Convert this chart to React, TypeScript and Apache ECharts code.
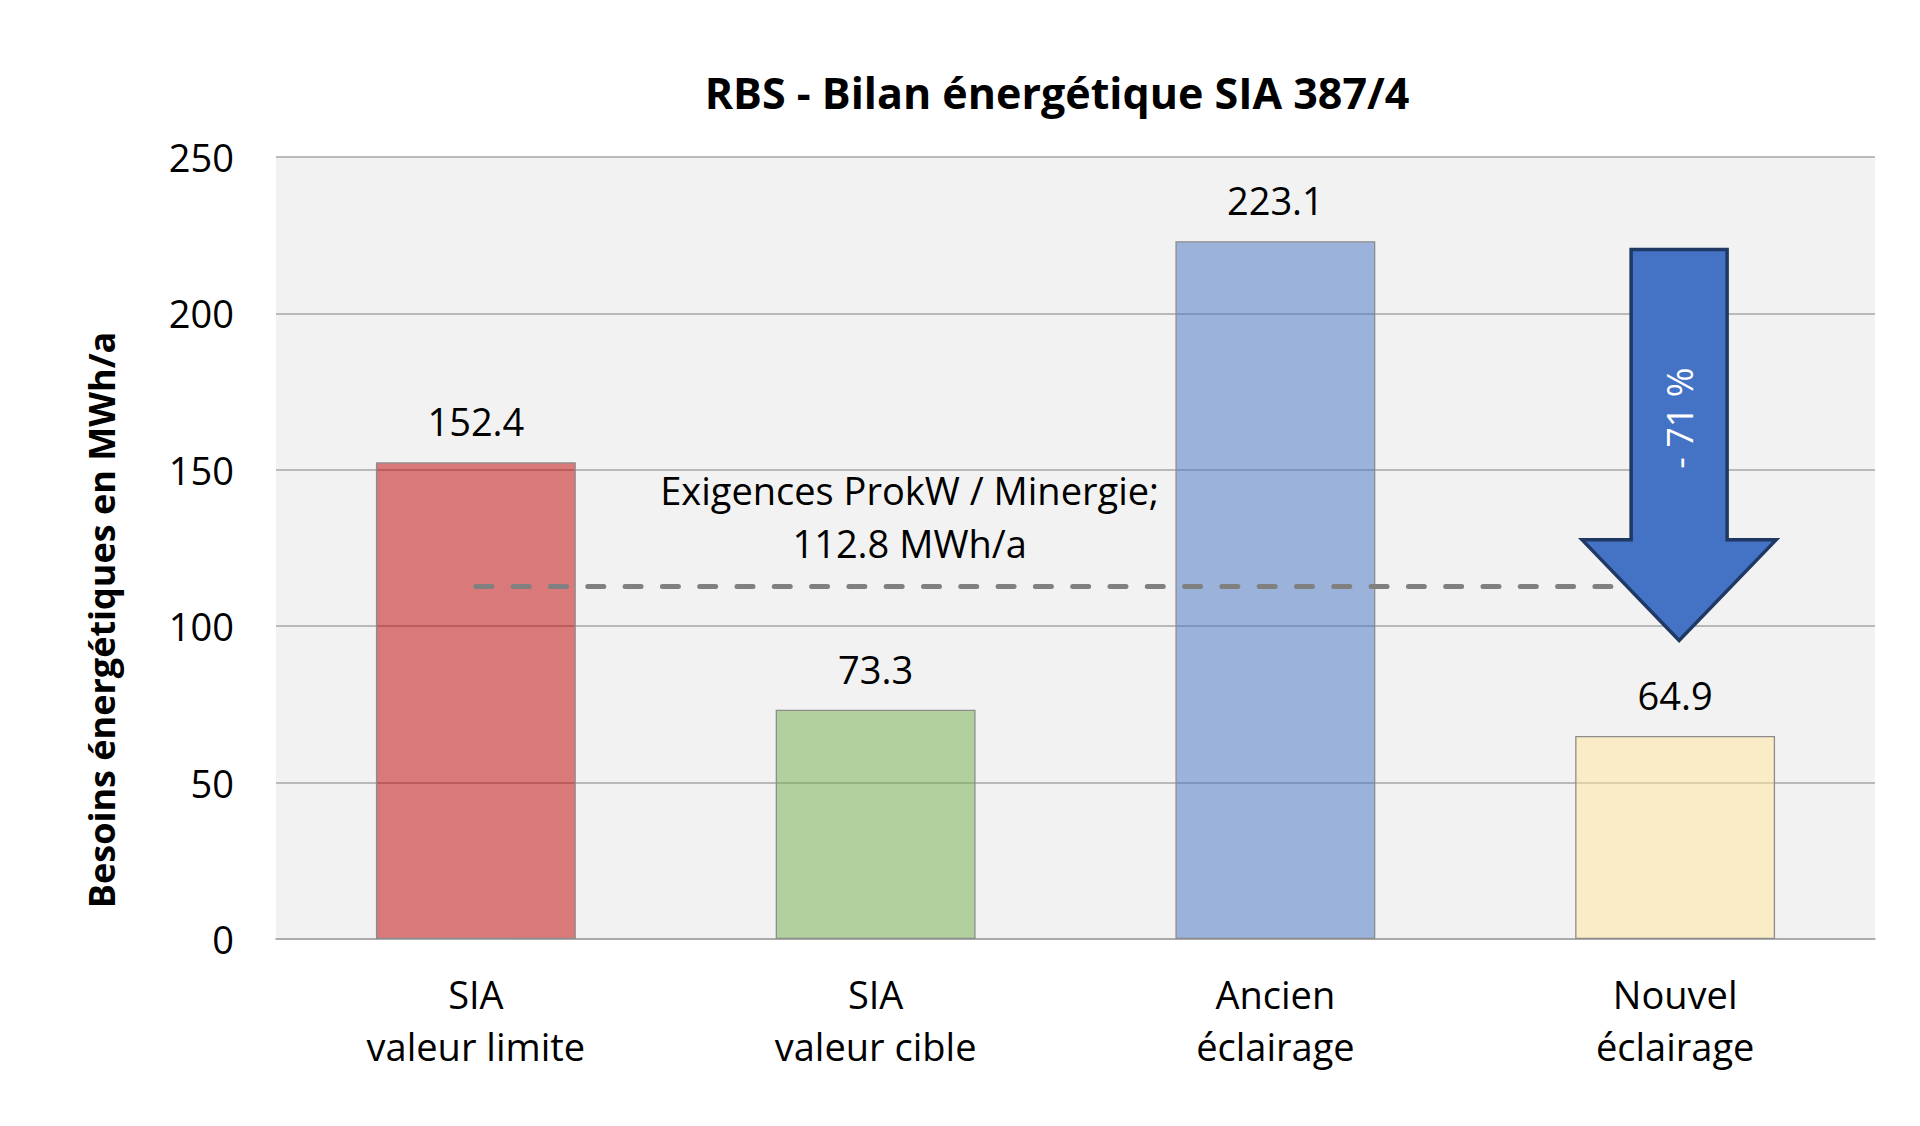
import React, { useEffect, useRef } from "react";
import * as echarts from "echarts";

const categories = ["SIA\nvaleur limite", "SIA\nvaleur cible", "Ancien\néclairage", "Nouvel\néclairage"];
const values = [152.4, 73.3, 223.1, 64.9];
const barColors = ["rgba(192,0,0,0.5)", "rgba(112,173,71,0.5)", "rgba(68,114,196,0.5)", "rgba(255,230,153,0.5)"];
const yTickMin = 0;
const yTickMax = 250;
const yTickStep = 50;
const requirementValue = 112.8;
const requirementText = ["Exigences ProkW / Minergie;", "112.8 MWh/a"];
// arrow annotation in axis values: top of shaft, start of head, tip
const arrowLevels = [220.4, 127.6, 95.4];
const reductionText = "- 71 %";
const reductionLevel = 166.5;
const noteLevel = 135;
const yAxisTitle = "Besoins énergétiques en MWh/a";
const yAxisTitleLevel = 102;

const FONT = "Open Sans";

export default function App() {
  const ref = useRef<HTMLDivElement>(null);
  useEffect(() => {
    document.body.style.margin = "0";
    const chart = echarts.init(ref.current!, undefined, { renderer: "svg" });
    chart.setOption({
      animation: false,
      backgroundColor: "#ffffff",
      textStyle: { fontFamily: FONT },
      title: {
        text: "RBS - Bilan énergétique SIA 387/4",
        left: 1052,
        textAlign: "center",
        top: 66,
        textStyle: { fontFamily: FONT, fontWeight: "bold", fontSize: 43, color: "#000" },
      },
      grid: {
        left: 276,
        right: 45,
        top: 157,
        bottom: 187,
        show: true,
        backgroundColor: "#F2F2F2",
        borderWidth: 0,
        containLabel: false,
      },
      xAxis: {
        type: "category",
        data: categories,
        axisTick: { show: false },
        axisLine: { lineStyle: { color: "#A6A6A6", width: 1.5 } },
        axisLabel: {
          fontFamily: FONT,
          fontSize: 38,
          lineHeight: 52,
          color: "#000",
          margin: 29,
          interval: 0,
        },
      },
      yAxis: {
        type: "value",
        min: yTickMin,
        max: yTickMax,
        interval: yTickStep,
        axisLine: { show: false },
        axisTick: { show: false },
        axisLabel: { fontFamily: FONT, fontSize: 38, color: "#000", margin: 42 },
        splitLine: { lineStyle: { color: "#A6A6A6", width: 1.5 } },
      },
      series: [
        {
          type: "bar",
          barWidth: "50%",
          data: values.map((v, i) => ({
            value: v,
            itemStyle: { color: barColors[i], borderColor: "#8C8C8C", borderWidth: 1.3 },
          })),
          label: {
            show: true,
            position: "top",
            distance: 22,
            fontFamily: FONT,
            fontSize: 38,
            color: "#000",
            formatter: (p: any) => Number(p.value).toFixed(1),
          },
          markLine: {
            silent: true,
            symbol: "none",
            label: { show: false },
            lineStyle: { color: "#808080", width: 5, type: [16, 21.3], cap: "round" },
            data: [[{ xAxis: 0, yAxis: requirementValue }, { xAxis: 3, yAxis: requirementValue }]],
          },
        },
      ],
    });

    const cx1 = chart.convertToPixel({ xAxisIndex: 0 }, 1) as number;
    const cx3 = (chart.convertToPixel({ xAxisIndex: 0 }, 3) as number) + 4;
    const yPix = (v: number) => chart.convertToPixel({ yAxisIndex: 0 }, v) as number;
    const [yTop, yNeck, yTip] = arrowLevels.map(yPix);
    const shaftHalf = 48;
    const headHalf = 97;

    chart.setOption({
      graphic: [
        {
          type: "text",
          z: 100,
          x: 101,
          y: yPix(yAxisTitleLevel),
          rotation: Math.PI / 2,
          style: {
            text: yAxisTitle,
            fontFamily: FONT,
            fontWeight: "bold",
            fontSize: 36,
            fill: "#000",
            textAlign: "center",
            textVerticalAlign: "middle",
          },
        },
        {
          type: "text",
          z: 100,
          x: cx1 + 34,
          y: yPix(noteLevel),
          style: {
            text: requirementText.join("\n"),
            fontFamily: FONT,
            fontSize: 38,
            lineHeight: 53,
            fill: "#000",
            textAlign: "center",
            textVerticalAlign: "middle",
          },
        },
        {
          type: "polygon",
          z: 100,
          shape: {
            points: [
              [cx3 - shaftHalf, yTop],
              [cx3 + shaftHalf, yTop],
              [cx3 + shaftHalf, yNeck],
              [cx3 + headHalf, yNeck],
              [cx3, yTip],
              [cx3 - headHalf, yNeck],
              [cx3 - shaftHalf, yNeck],
            ],
          },
          style: { fill: "#4472C4", stroke: "#1F3864", lineWidth: 3.5, lineJoin: "miter" },
        },
        {
          type: "text",
          z: 101,
          x: cx3,
          y: yPix(reductionLevel),
          rotation: Math.PI / 2,
          style: {
            text: reductionText,
            fontFamily: FONT,
            fontSize: 36,
            fill: "#ffffff",
            textAlign: "center",
            textVerticalAlign: "middle",
          },
        },
      ],
    });

    return () => chart.dispose();
  }, []);
  return <div ref={ref} style={{ width: 1920, height: 1126 }} />;
}
